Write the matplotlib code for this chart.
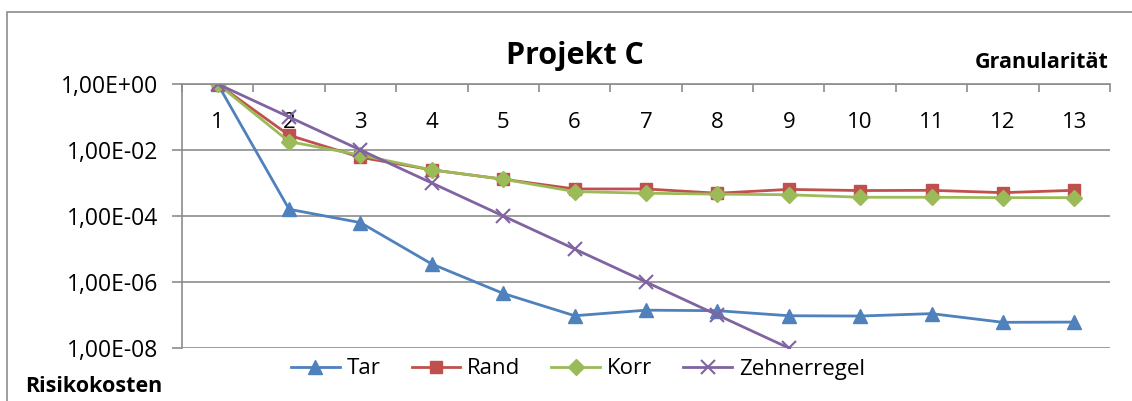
import numpy as np
import matplotlib
matplotlib.use("Agg")
import matplotlib.pyplot as plt
from matplotlib.ticker import FixedLocator, FuncFormatter, NullLocator
from matplotlib.patches import Rectangle

categories = [str(i) for i in range(1, 14)]
tar = [1.0, 1.6e-4, 6.3e-5, 3.5e-6, 4.5e-7, 9.5e-8, 1.4e-7, 1.35e-7, 9.5e-8, 9.3e-8, 1.1e-7, 6.0e-8, 6.1e-8]
rand = [1.0, 2.8e-2, 6.0e-3, 2.5e-3, 1.3e-3, 6.6e-4, 6.6e-4, 4.9e-4, 6.4e-4, 5.9e-4, 6.0e-4, 5.1e-4, 6.0e-4]
korr = [1.0, 1.8e-2, 7.0e-3, 2.5e-3, 1.3e-3, 5.5e-4, 4.9e-4, 4.6e-4, 4.4e-4, 3.7e-4, 3.7e-4, 3.6e-4, 3.6e-4]
zehner = [1.0, 1e-1, 1e-2, 1e-3, 1e-4, 1e-5, 1e-6, 1e-7, 1e-8, np.nan, np.nan, np.nan, np.nan]
yticks = [1e0, 1e-2, 1e-4, 1e-6, 1e-8]

plt.rcParams['font.family'] = ['Open Sans', 'DejaVu Sans']

fig = plt.figure(figsize=(11.32, 4.01), dpi=100)
W, H = 1132, 401
ax = fig.add_axes([182 / W, 1 - 348 / H, (1110 - 182) / W, (348 - 84) / H])

x = np.arange(1, 14)
ax.plot(x, tar, color='#4F81BD', lw=2, marker='^', ms=10, label='Tar')
ax.plot(x, rand, color='#C0504D', lw=2, marker='s', ms=9, label='Rand')
ax.plot(x, korr, color='#9BBB59', lw=2, marker='D', ms=8, label='Korr')
ax.plot(x, zehner, color='#8064A2', lw=2, marker='x', ms=10, mew=1.5, label='Zehnerregel')

ax.set_yscale('log')
ax.set_ylim(1e-8, 1e0)
ax.set_xlim(0.5, 13.5)
ax.yaxis.set_major_locator(FixedLocator(yticks))
ax.yaxis.set_minor_locator(NullLocator())
ax.yaxis.set_major_formatter(FuncFormatter(lambda v, p: f"{v:.2E}".replace('.', ',')))
ax.grid(axis='y', color='#8C8C8C', lw=1.2)
ax.set_axisbelow(True)

ax.xaxis.set_major_locator(FixedLocator(x))
ax.set_xticklabels(categories)
ax.xaxis.set_minor_locator(FixedLocator(np.arange(0.5, 14, 1)))
ax.tick_params(axis='x', which='major', top=True, bottom=False, labeltop=True,
               labelbottom=False, length=0, pad=-35, labelsize=16)
ax.tick_params(axis='x', which='minor', top=True, bottom=False, direction='in',
               length=6, width=1.2, color='#8C8C8C')
ax.tick_params(axis='y', which='major', direction='out', length=7, width=1.2,
               color='#8C8C8C', labelsize=16.5, pad=10)

for s in ['right', 'bottom']:
    ax.spines[s].set_visible(False)
for s in ['left', 'top']:
    ax.spines[s].set_color('#8C8C8C')
    ax.spines[s].set_linewidth(1.2)

fig.text(575 / W, 1 - 56 / H, 'Projekt C', ha='center', va='center',
         fontsize=22, fontweight='bold')
fig.text(1109 / W, 1 - 62 / H, 'Granularität', ha='right', va='center',
         fontsize=15.5, fontweight='bold')
fig.text(25 / W, 1 - 387 / H, 'Risikokosten', ha='left', va='center',
         fontsize=15.5, fontweight='bold')

leg = fig.legend(loc='center', bbox_to_anchor=(578 / W, 1 - 369 / H), ncol=4,
                 frameon=False, fontsize=16, handlelength=2.2, columnspacing=1.4,
                 handletextpad=0.3, borderaxespad=0)

fig.add_artist(Rectangle((7 / W, -0.1), 1.2, 1 - 12 / H + 0.1,
                         transform=fig.transFigure, fill=False,
                         edgecolor='#8C8C8C', lw=1.2))

fig.savefig('out.png', dpi=100)
